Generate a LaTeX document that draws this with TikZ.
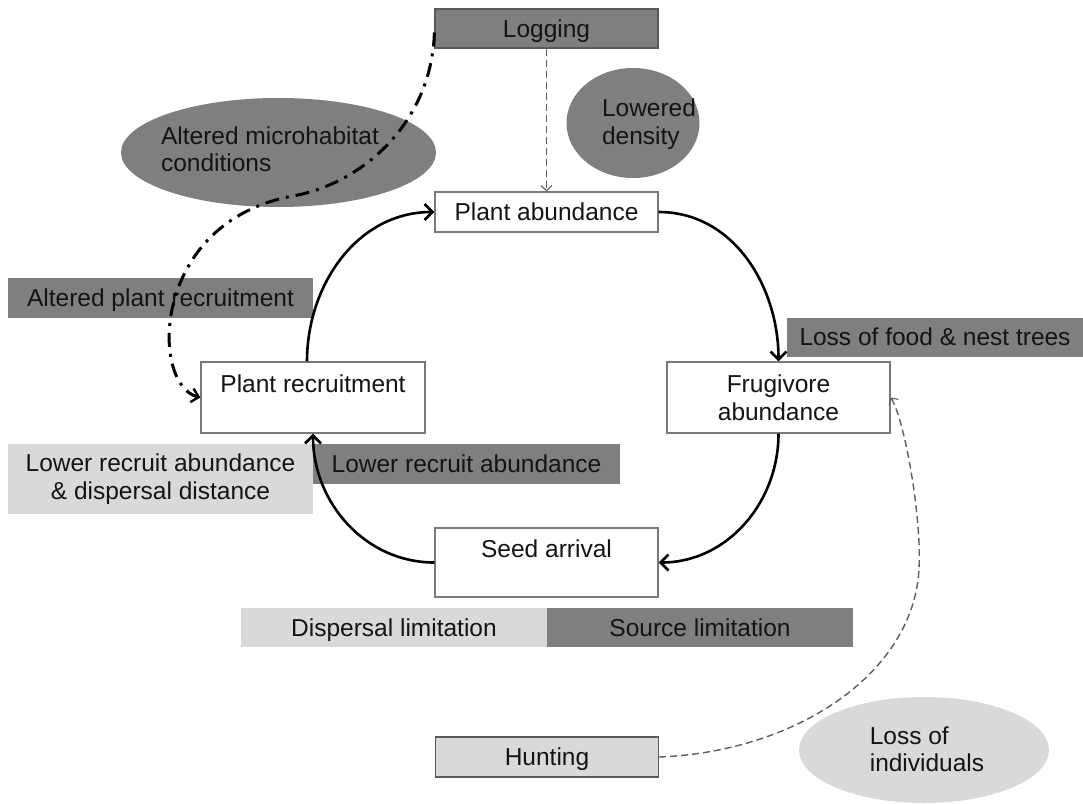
\documentclass[tikz,border=0pt]{standalone}
\usepackage{fontspec}
\setmainfont{Liberation Sans}
\usetikzlibrary{shapes.geometric,arrows.meta}
\definecolor{dk}{HTML}{7F7F7F}
\definecolor{lt}{HTML}{D9D9D9}
\definecolor{edgegray}{HTML}{7A7A7A}
\definecolor{darkedge}{HTML}{5A5A5A}
\definecolor{txt}{HTML}{141414}
\definecolor{dashgray}{HTML}{5E5E5E}
\begin{document}
\begin{tikzpicture}[x=1pt,y=1pt,
  font=\fontsize{24.5}{27.5}\selectfont,
  every node/.style={text=txt},
  tx/.style={text height=17.5pt, text depth=0pt},
  wbox/.style={draw=edgegray, line width=1.3pt, fill=white, inner sep=0pt, align=center},
  dbox/.style={fill=dk, inner sep=0pt, align=center},
  lbox/.style={fill=lt, inner sep=0pt, align=center},
  srcbox/.style={draw=darkedge, line width=1.3pt, inner sep=0pt, align=center},
  dkell/.style={ellipse, fill=dk, inner sep=0pt},
  ltell/.style={ellipse, fill=lt, inner sep=0pt},
  cyc/.style={line width=2.6pt, black, -{Straight Barb[length=8pt,width=16pt]}},
  dsh/.style={line width=1.4pt, dashgray, dash pattern=on 7pt off 4pt, -{Straight Barb[length=5pt,width=11pt,line width=1.1pt]}},
  ddot/.style={line width=3pt, black, dash pattern=on 14pt off 7pt on 3pt off 7pt, -{Straight Barb[length=7pt,width=14pt,line width=2.4pt]}}
]
\fill[white] (0,0) rectangle (1083,-803);
\useasboundingbox (0,0) rectangle (1083,-803);

% ellipses
\node[dkell, minimum width=133pt, minimum height=110pt,
  label={[align=left, xshift=16pt, yshift=-1pt]center:Lowered\\density}] (lowd) at (633,-123) {};
\node[dkell, minimum width=315pt, minimum height=109pt,
  label={[align=left, xshift=-8.5pt, yshift=3.5pt]center:Altered microhabitat\\conditions}] (micro) at (278.5,-152.5) {};
\node[ltell, minimum width=250pt, minimum height=106pt,
  label={[align=left, xshift=3pt, yshift=1pt]center:Loss of\\individuals}] (lossind) at (924,-750) {};

% source boxes
\node[srcbox, fill=dk, tx, minimum width=223pt, minimum height=39pt] (logging) at (546.5,-28.5) {Logging};
\node[srcbox, fill=lt, tx, minimum width=223pt, minimum height=40pt] (hunt) at (547,-757) {Hunting};

% cycle boxes
\node[wbox, tx, minimum width=223pt, minimum height=40pt] (pab) at (546.5,-212) {Plant abundance};
\node[wbox, minimum width=223pt, minimum height=71pt] (frug) at (778.5,-397.5) {Frugivore\\abundance};
\node[wbox, text height=18pt, text depth=28pt, minimum width=224pt, minimum height=71pt] (precruit) at (313,-397.5) {Plant recruitment};
\node[wbox, text height=18pt, text depth=28pt, minimum width=223pt, minimum height=69pt] (seed) at (546.5,-562.5) {Seed arrival};

% effect boxes
\node[dbox, tx, minimum width=296pt, minimum height=39pt] (lossfood) at (935,-337) {Loss of food \& nest trees};
\node[dbox, tx, minimum width=305pt, minimum height=40pt] (altrec) at (160.5,-297.5) {Altered plant recruitment};
\node[lbox, minimum width=305pt, minimum height=70pt] (lowdisp) at (160.5,-479) {Lower recruit abundance\\\& dispersal distance};
\node[dbox, tx, minimum width=307pt, minimum height=40pt] (lowrec) at (466.5,-464) {Lower recruit abundance};
\node[lbox, tx, minimum width=306pt, minimum height=39pt] (displim) at (394,-627.5) {Dispersal limitation};
\node[dbox, tx, minimum width=306pt, minimum height=39pt] (srclim) at (700,-627.5) {Source limitation};

% connectors
\draw[cyc] ([xshift=-6pt]precruit.north) to[out=90,in=180] (pab.west);
\draw[cyc] (pab.east) to[out=0,in=90] (frug.north);
\draw[cyc] (frug.south) to[out=-90,in=0] (seed.east);
\draw[cyc] (seed.west) to[out=180,in=-90] (precruit.south);

\draw[dsh] (logging.south) -- (pab.north);
\draw[dsh] (hunt.east) .. controls (790,-752) and (905,-680) .. (918,-580)
  .. controls (924.5,-530) and (905,-420) .. (frug.east);

\draw[ddot] ([yshift=-4pt]logging.west) .. controls (432,-120) and (365,-183) .. (293,-196)
  .. controls (150,-222) and (150,-385) .. (precruit.west);
\end{tikzpicture}
\end{document}
